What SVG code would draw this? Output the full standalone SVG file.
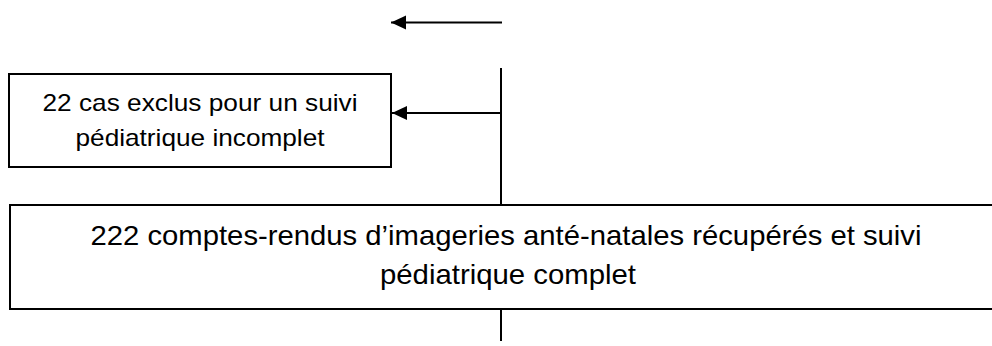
<svg xmlns="http://www.w3.org/2000/svg" width="992" height="346" viewBox="0 0 992 346">
<style>
.box{fill:#fff;stroke:#000;stroke-width:2}
.ln{stroke:#000;stroke-width:2;fill:none}
.t{font-family:"Liberation Sans",Arial,sans-serif;fill:#000;text-anchor:middle}
.s{font-size:24px}
.b{font-size:28.5px}
</style>
<defs>
<marker id="ah" markerUnits="userSpaceOnUse" markerWidth="16" markerHeight="16" viewBox="0 0 16 16" refX="15" refY="8" orient="auto">
<path d="M0,1 L15,8 L0,15 Z" fill="#000"/>
</marker>
</defs>
<g id="connectors">
<line class="ln" x1="502" y1="22.5" x2="391" y2="22.5" marker-end="url(#ah)"/>
<line class="ln" x1="501" y1="68" x2="501" y2="205"/>
<line class="ln" x1="501" y1="113" x2="392" y2="113" marker-end="url(#ah)"/>
<line class="ln" x1="501" y1="309" x2="501" y2="341"/>
</g>
<g id="node-excluded">
<rect class="box" x="9" y="74" width="382" height="93"/>
<text class="t s" x="200" y="111" textLength="315" lengthAdjust="spacingAndGlyphs">22 cas exclus pour un suivi</text>
<text class="t s" x="200" y="146" textLength="249" lengthAdjust="spacingAndGlyphs">pédiatrique incomplet</text>
</g>
<g id="node-included">
<rect class="box" x="10" y="205" width="1000" height="104"/>
<text class="t b" x="506" y="245" textLength="831" lengthAdjust="spacingAndGlyphs">222 comptes-rendus d’imageries anté-natales récupérés et suivi</text>
<text class="t b" x="508" y="284" textLength="256" lengthAdjust="spacingAndGlyphs">pédiatrique complet</text>
</g>
</svg>
